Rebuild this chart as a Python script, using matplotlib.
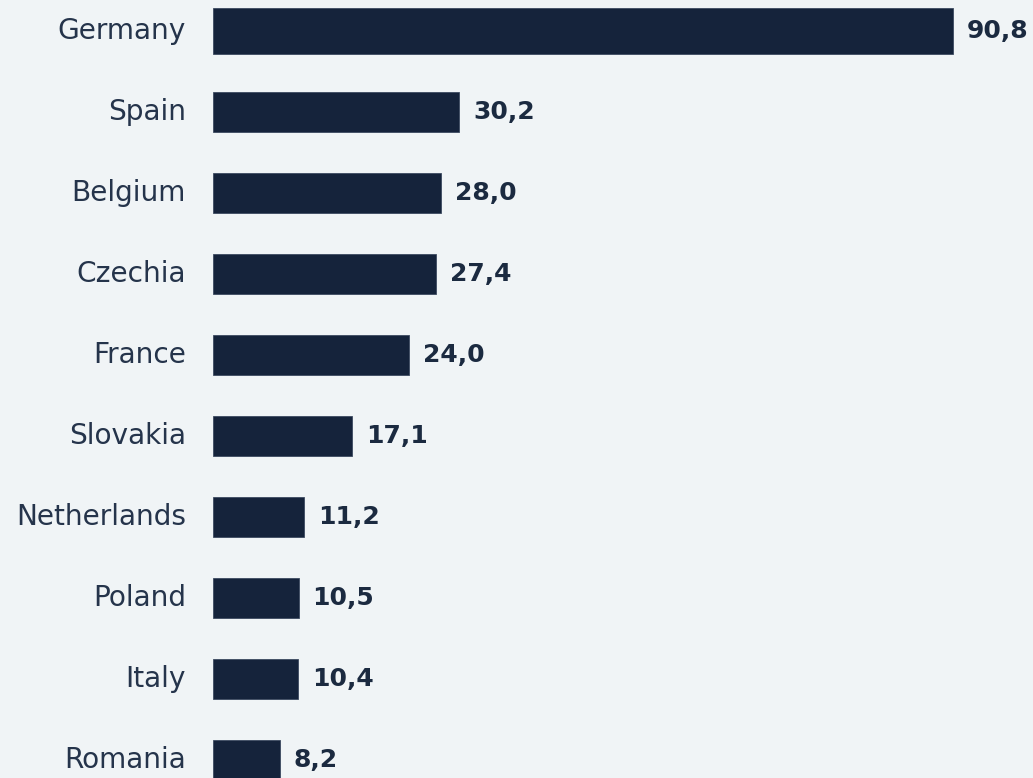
import matplotlib.pyplot as plt

countries = ['Germany', 'Spain', 'Belgium', 'Czechia', 'France',
             'Slovakia', 'Netherlands', 'Poland', 'Italy', 'Romania']
values = [90.8, 30.2, 28.0, 27.4, 24.0, 17.1, 11.2, 10.5, 10.4, 8.2]
labels = ['90,8', '30,2', '28,0', '27,4', '24,0', '17,1', '11,2', '10,5', '10,4', '8,2']

bg = '#f0f4f6'
bar_col = '#15233b'
txt_col = '#1b2a40'

fig = plt.figure(figsize=(10.33, 7.78), dpi=100, facecolor=bg)
# axes starts where the bars start (x=213 px)
ax = fig.add_axes([213 / 1033, 0, 820 / 1033, 1])
ax.set_facecolor(bg)

ypos = list(range(len(countries)))
heights = [0.568] + [0.494] * (len(countries) - 1)
ax.barh(ypos, values, height=heights, color=bar_col, edgecolor='#3c4a60', linewidth=0.6)

ax.set_xlim(0, 820 / 8.15)
ax.set_ylim((778 - 31) / 81, -31 / 81)
ax.axis('off')

for i in ypos:
    ax.annotate(countries[i], xy=(0, i), xytext=(-27, 0), textcoords='offset pixels',
                ha='right', va='center', fontsize=20.2, color='#25344b')
    ax.annotate(labels[i], xy=(values[i], i), xytext=(14, 0), textcoords='offset pixels',
                ha='left', va='center', fontsize=18, fontweight='bold', color=txt_col)

fig.savefig('out.png', dpi=100, facecolor=bg)
